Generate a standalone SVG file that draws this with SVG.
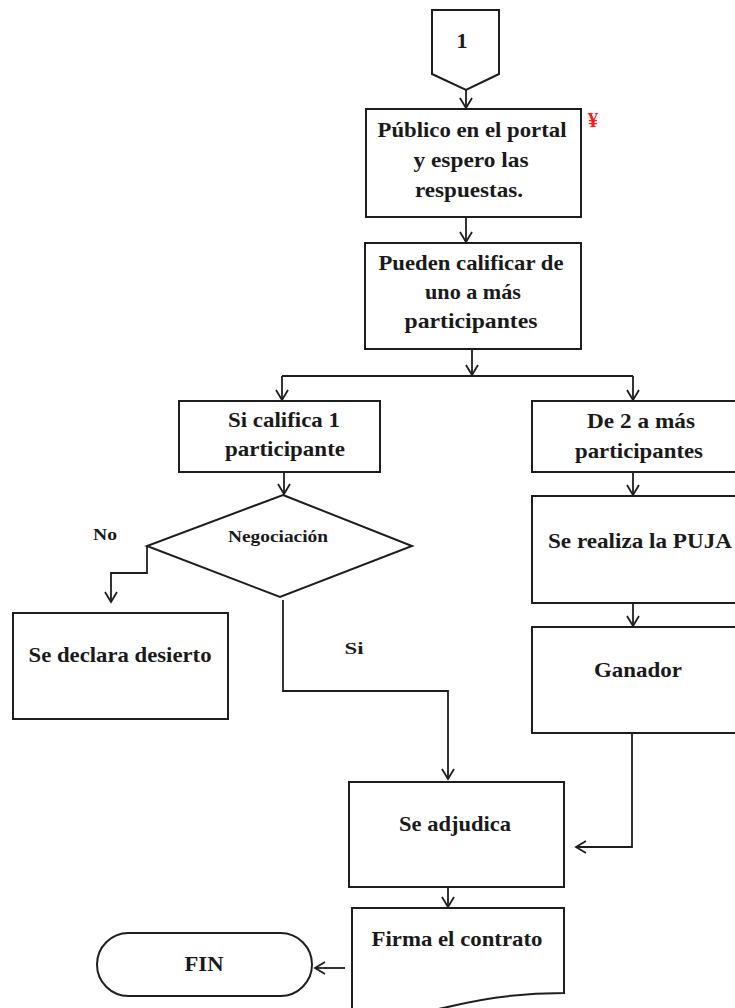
<svg xmlns="http://www.w3.org/2000/svg" width="735" height="1008" viewBox="0 0 735 1008">
  <style>
    .shape { fill: #ffffff; stroke: #1e1e1e; stroke-width: 2; }
    .wire { fill: none; stroke: #1e1e1e; stroke-width: 1.8; }
    .lbl { font-family: "Liberation Serif", "Times New Roman", serif; font-weight: bold; font-size: 21px; fill: #1a1a1a; text-anchor: middle; }
    .small { font-size: 17px; }
    .num { font-size: 22px; }
    .mark { font-family: "Liberation Serif", serif; font-weight: bold; font-size: 21px; fill: #ff1a1a; text-anchor: middle; }
  </style>
  <defs>
    <marker id="arrow" markerUnits="userSpaceOnUse" markerWidth="16" markerHeight="16" viewBox="-12 -8 14 16" refX="0" refY="0" orient="auto">
      <path d="M-10,-6 L0,0 L-10,6" fill="none" stroke="#1e1e1e" stroke-width="1.8"/>
    </marker>
  </defs>

  <rect width="735" height="1008" fill="#ffffff"/>

  <!-- connectors -->
  <g id="connectors">
    <path class="wire" d="M466,90 V108" marker-end="url(#arrow)"/>
    <path class="wire" d="M466,217 V242" marker-end="url(#arrow)"/>
    <path class="wire" d="M472,349 V375" marker-end="url(#arrow)"/>
    <path class="wire" d="M282,376 H633"/>
    <path class="wire" d="M282,376 V400" marker-end="url(#arrow)"/>
    <path class="wire" d="M633,376 V400" marker-end="url(#arrow)"/>
    <path class="wire" d="M284,472 V494" marker-end="url(#arrow)"/>
    <path class="wire" d="M633,472 V495" marker-end="url(#arrow)"/>
    <path class="wire" d="M633,603 V626" marker-end="url(#arrow)"/>
    <path class="wire" d="M147,546 V573 H111 V602" marker-end="url(#arrow)"/>
    <path class="wire" d="M283,600 V691 H448 V779" marker-end="url(#arrow)"/>
    <path class="wire" d="M632,733 V847 H576" marker-end="url(#arrow)"/>
    <path class="wire" d="M448,887 V907" marker-end="url(#arrow)"/>
    <path class="wire" d="M345,968 H315" marker-end="url(#arrow)"/>
  </g>

  <!-- off-page connector -->
  <g id="node-connector-1">
    <path class="shape" d="M432,10 H499 V74 L466,90 L432,74 Z"/>
    <text class="lbl num" x="462" y="48">1</text>
  </g>

  <g id="node-publico">
    <rect class="shape" x="366" y="109" width="215" height="108"/>
    <text class="lbl" x="472" y="137" textLength="189" lengthAdjust="spacingAndGlyphs">Público en el portal</text>
    <text class="lbl" x="471" y="167" textLength="115" lengthAdjust="spacingAndGlyphs">y espero las</text>
    <text class="lbl" x="469" y="197" textLength="108" lengthAdjust="spacingAndGlyphs">respuestas.</text>
    <text class="mark" x="593" y="127">¥</text>
  </g>

  <g id="node-calificar">
    <rect class="shape" x="365" y="243" width="216" height="106"/>
    <text class="lbl" x="471" y="270" textLength="185" lengthAdjust="spacingAndGlyphs">Pueden calificar de</text>
    <text class="lbl" x="473" y="299" textLength="96" lengthAdjust="spacingAndGlyphs">uno a más</text>
    <text class="lbl" x="471" y="328" textLength="133" lengthAdjust="spacingAndGlyphs">participantes</text>
  </g>

  <g id="node-uno">
    <rect class="shape" x="179" y="401" width="201" height="71"/>
    <text class="lbl" x="284" y="427" textLength="112" lengthAdjust="spacingAndGlyphs">Si califica 1</text>
    <text class="lbl" x="285" y="456" textLength="120" lengthAdjust="spacingAndGlyphs">participante</text>
  </g>

  <g id="node-varios">
    <rect class="shape" x="532" y="401" width="220" height="71"/>
    <text class="lbl" x="641" y="428" textLength="108" lengthAdjust="spacingAndGlyphs">De 2 a más</text>
    <text class="lbl" x="639" y="458" textLength="128" lengthAdjust="spacingAndGlyphs">participantes</text>
  </g>

  <g id="node-negociacion">
    <path class="shape" d="M283,495 L412,546 L280,597 L147,546 Z"/>
    <text class="lbl small" x="278" y="542" textLength="100" lengthAdjust="spacingAndGlyphs">Negociación</text>
  </g>

  <g id="label-no">
    <text class="lbl small" x="105" y="540" textLength="24" lengthAdjust="spacingAndGlyphs">No</text>
  </g>

  <g id="label-si">
    <text class="lbl small" x="354" y="654" textLength="19" lengthAdjust="spacingAndGlyphs">Si</text>
  </g>

  <g id="node-puja">
    <rect class="shape" x="532" y="496" width="220" height="107"/>
    <text class="lbl" x="640" y="548" textLength="184" lengthAdjust="spacingAndGlyphs">Se realiza la PUJA</text>
  </g>

  <g id="node-ganador">
    <rect class="shape" x="532" y="627" width="220" height="106"/>
    <text class="lbl" x="638" y="677" textLength="88" lengthAdjust="spacingAndGlyphs">Ganador</text>
  </g>

  <g id="node-desierto">
    <rect class="shape" x="13" y="613" width="215" height="106"/>
    <text class="lbl" x="120" y="662" textLength="183" lengthAdjust="spacingAndGlyphs">Se declara desierto</text>
  </g>

  <g id="node-adjudica">
    <rect class="shape" x="349" y="782" width="215" height="105"/>
    <text class="lbl" x="455" y="831" textLength="112" lengthAdjust="spacingAndGlyphs">Se adjudica</text>
  </g>

  <!-- document shape with wavy bottom -->
  <g id="node-contrato">
    <path class="shape" d="M352,908 H564 V993 C525,993 485,998 452,1006 C420,1014 390,1016 352,1013 Z"/>
    <text class="lbl" x="457" y="946" textLength="171" lengthAdjust="spacingAndGlyphs">Firma el contrato</text>
  </g>

  <g id="node-fin">
    <rect class="shape" x="97" y="933" width="215" height="63" rx="31.5" ry="31.5"/>
    <text class="lbl" x="204" y="971" textLength="39" lengthAdjust="spacingAndGlyphs">FIN</text>
  </g>
</svg>
